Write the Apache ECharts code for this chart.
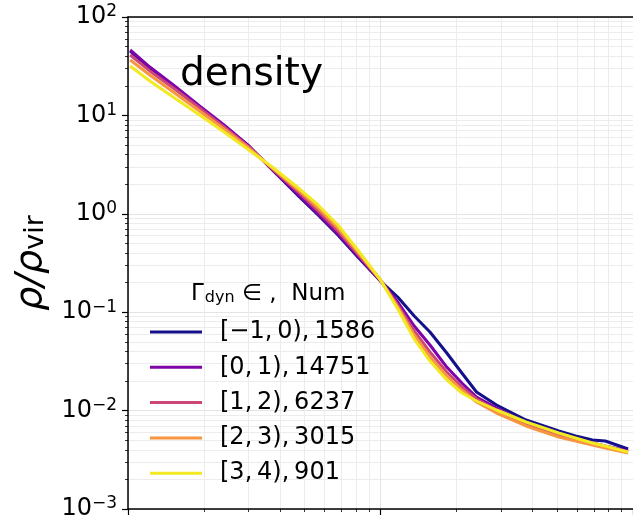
<!DOCTYPE html>
<html>
<head>
<meta charset="utf-8">
<script src="https://cdn.jsdelivr.net/npm/echarts@6/dist/echarts.min.js"></script>
<style>
  html, body { margin: 0; padding: 0; background: #fff; }
  #chart { width: 633px; height: 525px; }
</style>
</head>
<body>
<div id="chart"></div>
<script>
// radius samples (log axis, no labels shown in the crop)
const radius = [0.102, 0.122, 0.153, 0.192, 0.240, 0.301, 0.377, 0.473, 0.566, 0.678, 0.813, 1.0,
  1.17, 1.36, 1.57, 1.83, 2.10, 2.40, 2.88, 3.77, 5.08, 5.92, 6.91, 7.77, 9.56]

const gammaM1 = [45.1, 30.3, 19.4, 12.2, 7.80, 4.89, 2.72, 1.52, 0.972, 0.609, 0.364, 0.2075,
  0.1427, 0.0915, 0.0629, 0.0385, 0.0241, 0.01545, 0.0114, 0.00803, 0.0062, 0.00552, 0.00502, 0.00491, 0.00407]
const gamma0 = [46.2, 31.0, 19.9, 12.5, 7.99, 4.89, 2.72, 1.553, 0.995, 0.623, 0.3725, 0.2075,
  0.127, 0.0724, 0.0464, 0.0277, 0.01908, 0.01375, 0.01063, 0.00748, 0.00578, 0.00514, 0.00468, 0.00437, 0.00389]
const gamma1 = [41.1, 28.3, 18.55, 11.9, 7.62, 4.78, 2.79, 1.665, 1.068, 0.668, 0.3904, 0.2124,
  0.1184, 0.0644, 0.0394, 0.0247, 0.01737, 0.01312, 0.01014, 0.00731, 0.00565, 0.00502, 0.00458, 0.00427, 0.0038]
const gamma2 = [36.6, 25.7, 16.9, 11.1, 7.27, 4.66, 2.85, 1.746, 1.145, 0.717, 0.409, 0.2124,
  0.1129, 0.0587, 0.0351, 0.02247, 0.01619, 0.01223, 0.00945, 0.00698, 0.00539, 0.00491, 0.00447, 0.00417, 0.00371]
const gamma3 = [31.8, 22.4, 15.0, 10.1, 6.78, 4.45, 2.92, 1.829, 1.229, 0.77, 0.4285, 0.2124,
  0.1078, 0.0534, 0.0319, 0.02047, 0.0151, 0.01252, 0.01014, 0.00766, 0.00592, 0.00527, 0.00468, 0.00437, 0.0038]

const names = ['[−1,\u20090),\u20091586', '[0,\u20091),\u200914751', '[1,\u20092),\u20096237',
  '[2,\u20093),\u20093015', '[3,\u20094),\u2009901']
const colors = ['#14108a', '#7e03a8', '#cc4778', '#f89540', '#f2e923']
const yExponents = ['−3', '−2', '−1', '0', '1', '2']

const font = 'DejaVu Sans'
const chart = echarts.init(document.getElementById('chart'))

const series = [gammaM1, gamma0, gamma1, gamma2, gamma3].map((vals, i) => ({
  name: names[i],
  type: 'line',
  data: radius.map((r, j) => [r, vals[j]]),
  showSymbol: false,
  symbol: 'none',
  lineStyle: { width: 3, color: colors[i] },
  itemStyle: { color: colors[i] },
  z: 2 + i
}))

const txt = (size, extra) => Object.assign({ fontFamily: font, fontSize: size, fontWeight: 'normal', color: '#000' }, extra)

chart.setOption({
  animation: false,
  title: [
    {
      text: 'density', left: 175, top: 50,
      textStyle: txt(39)
    },
    {
      text: '{g|Γ}{d|dyn}{t| ∈ ,  Num}', left: 186, top: 277,
      textStyle: {
        fontWeight: 'normal',
        rich: {
          g: txt(23),
          d: txt(16, { padding: [8, 0, 0, 1] }),
          t: txt(23)
        }
      }
    }
  ],
  legend: {
    orient: 'vertical', left: 145, top: 313,
    icon: 'rect', itemWidth: 52, itemHeight: 3, itemGap: 7.3,
    selectedMode: false,
    textStyle: txt(24, { lineHeight: 28, padding: [0, 0, 0, 13] }),
    data: names
  },
  grid: { left: 128, top: 17, right: -5, bottom: 16 },
  xAxis: [
    {
      type: 'log', logBase: 10, min: 0.1, max: 10,
      axisLine: { lineStyle: { color: '#000', width: 1.5 } },
      axisTick: { show: true, length: 6, lineStyle: { color: '#000', width: 1.2 } },
      minorTick: { show: true, splitNumber: 9, length: 3, lineStyle: { color: '#000', width: 0.8 } },
      axisLabel: { show: false },
      splitLine: { show: true, lineStyle: { color: '#e4e4e4', width: 1 } },
      minorSplitLine: { show: true, lineStyle: { color: '#ececec', width: 1 } }
    },
    {
      type: 'log', logBase: 10, min: 0.1, max: 10, position: 'top',
      axisLine: { show: true, onZero: false, lineStyle: { color: '#000', width: 1.5 } },
      axisTick: { show: false }, axisLabel: { show: false }, splitLine: { show: false }
    }
  ],
  yAxis: {
    type: 'log', logBase: 10, min: 0.001, max: 100,
    axisLine: { show: true, lineStyle: { color: '#000', width: 1.5 } },
    axisTick: { show: true, length: 6, lineStyle: { color: '#000', width: 1.2 } },
    minorTick: { show: true, splitNumber: 9, length: 3, lineStyle: { color: '#000', width: 0.8 } },
    splitLine: { show: true, lineStyle: { color: '#e4e4e4', width: 1 } },
    minorSplitLine: { show: true, lineStyle: { color: '#ececec', width: 1 } },
    axisLabel: {
      margin: 11,
      formatter: (v, i) => '{b|10}{s|' + yExponents[i] + '}',
      rich: {
        b: txt(24),
        s: txt(17, { padding: [0, 0, 10, 0] })
      }
    },
    name: '{r|ρ/ρ}{v|vir}',
    nameLocation: 'middle',
    nameRotate: 90,
    nameGap: 73,
    nameTextStyle: {
      rich: {
        r: txt(38, { fontStyle: 'italic' }),
        v: txt(27, { padding: [8, 0, 0, 0] })
      }
    }
  },
  series
})
</script>
</body>
</html>
